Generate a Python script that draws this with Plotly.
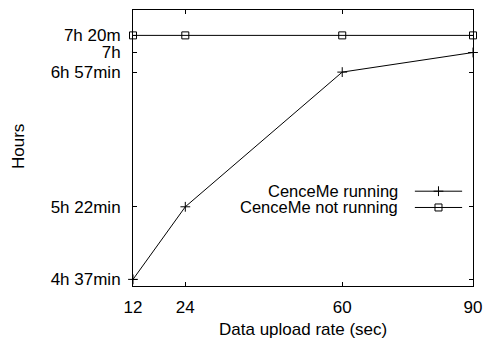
import plotly.graph_objects as go

# Upload interval (seconds) on the x axis
upload_rate = [12, 24, 60, 90]

# Battery lifetime levels on the plotting scale (0 = bottom frame, 100 = top frame)
running_life = [2.4, 28.7, 77.5, 84.6]
idle_life = [90.8, 90.8, 90.8, 90.8]

# Y tick positions on the same scale, and their labels
ytick_vals = [2.4, 28.7, 77.5, 84.6, 90.8]
ytick_text = ["4h 37min", "5h 22min", "6h 57min", "7h", "7h 20m"]

xtick_vals = [12, 24, 60, 90]

series_names = ["CenceMe running", "CenceMe not running"]

FONT = dict(family="Liberation Sans, Arial, Helvetica, sans-serif", size=17, color="black")
KEY_FONT = dict(family="Liberation Sans, Arial, Helvetica, sans-serif", size=16.5, color="black")
LINE = dict(color="black", width=1)

fig = go.Figure()

fig.add_trace(go.Scatter(
    x=upload_rate, y=running_life, mode="lines+markers",
    line=LINE, marker=dict(symbol="cross-thin-open", size=7, line=dict(color="black", width=1)),
    showlegend=False, cliponaxis=False,
))
fig.add_trace(go.Scatter(
    x=upload_rate, y=idle_life, mode="lines+markers",
    line=LINE, marker=dict(symbol="square-open", size=7, color="black", line=dict(color="black", width=1)),
    showlegend=False, cliponaxis=False,
))

# Hand-drawn key: text to the left of a short sample line with its marker
key_rows = [0.3435, 0.2845]
key_symbols = [("cross-thin-open", 7), ("square-open", 7)]
for name, ky, (sym, sz) in zip(series_names, key_rows, key_symbols):
    fig.add_trace(go.Scatter(
        x=[0.829, 0.968], y=[ky, ky], mode="lines", line=LINE,
        xaxis="x2", yaxis="y2", showlegend=False, hoverinfo="skip",
    ))
    fig.add_trace(go.Scatter(
        x=[0.8985], y=[ky], mode="markers",
        marker=dict(symbol=sym, size=sz, color="black", line=dict(color="black", width=1)),
        xaxis="x2", yaxis="y2", showlegend=False, hoverinfo="skip",
    ))
    fig.add_annotation(
        text=name, x=0.785, y=ky, xref="paper", yref="paper",
        xanchor="right", yanchor="middle", showarrow=False, font=KEY_FONT,
    )

axis_common = dict(
    showline=True, linecolor="black", linewidth=1, mirror="ticks",
    ticks="inside", ticklen=4, tickwidth=1, tickcolor="black",
    showgrid=False, zeroline=False, tickfont=FONT, automargin=False,
)

fig.update_layout(
    template="none",
    width=483, height=344,
    margin=dict(l=133, r=10, t=10, b=58),
    paper_bgcolor="white", plot_bgcolor="white",
    font=FONT,
    xaxis=dict(range=[12, 90], tickmode="array", tickvals=xtick_vals,
               ticktext=[str(v) for v in xtick_vals], ticklabelstandoff=6, **axis_common),
    yaxis=dict(range=[0, 100], tickmode="array", tickvals=ytick_vals,
               ticktext=ytick_text, ticklabelstandoff=8, **axis_common),
    xaxis2=dict(range=[0, 1], overlaying="x", visible=False),
    yaxis2=dict(range=[0, 1], overlaying="y", visible=False),
)

fig.add_annotation(text="Data upload rate (sec)", x=0.5, y=-0.159, xref="paper", yref="paper",
                   xanchor="center", yanchor="middle", showarrow=False, font=FONT)
fig.add_annotation(text="Hours", x=-0.335, y=0.504, xref="paper", yref="paper", textangle=-90,
                   xanchor="center", yanchor="middle", showarrow=False, font=FONT)

fig.write_html("out.html")
